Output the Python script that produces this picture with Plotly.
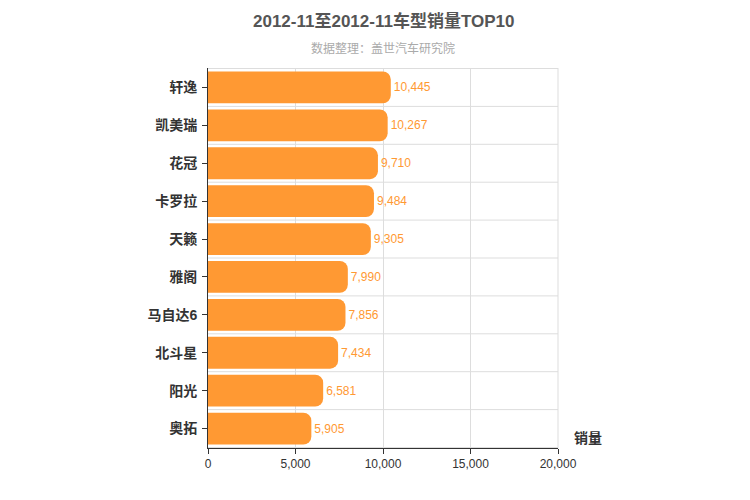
import plotly.graph_objects as go

categories = ["轩逸", "凯美瑞", "花冠", "卡罗拉", "天籁", "雅阁", "马自达6", "北斗星", "阳光", "奥拓"]
sales = [10445, 10267, 9710, 9484, 9305, 7990, 7856, 7434, 6581, 5905]
x_ticks = [0, 5000, 10000, 15000, 20000]

fig = go.Figure(go.Bar(
    y=categories, x=sales, orientation="h",
    marker=dict(color="#FF9933", line=dict(width=0)),
    width=0.84,
    text=[f"{v:,}" for v in sales], textposition="outside",
    textfont=dict(color="#FF9933", size=12), cliponaxis=False,
))
shapes = []
for i in range(len(categories) + 1):
    shapes.append(dict(type="line", xref="paper", x0=0, x1=1, yref="y", y0=i - 0.5, y1=i - 0.5,
                       line=dict(color="#DDDDDD", width=1), layer="below"))
shapes.append(dict(type="line", xref="paper", x0=1, x1=1, yref="paper", y0=0, y1=1,
                   line=dict(color="#DDDDDD", width=1), layer="below"))
fig.update_layout(
    width=750, height=500, plot_bgcolor="white", paper_bgcolor="white",
    margin=dict(l=200, r=200, t=60, b=60, autoexpand=False),
    font=dict(family="Liberation Sans, Noto Sans CJK SC, sans-serif", color="#333"),
    barcornerradius=8, showlegend=False, shapes=shapes,
    xaxis=dict(range=[0, 20000], tickvals=x_ticks, tickformat=",", showgrid=True, gridcolor="#DDDDDD",
               zeroline=False, showline=True, linecolor="#333", ticks="outside", ticklen=5,
               tickcolor="#333", tickfont=dict(size=12, color="#333"), automargin=False),
    yaxis=dict(categoryorder="array", categoryarray=categories[::-1], showgrid=False,
               showline=True, linecolor="#333", ticks="outside", ticklen=5, tickcolor="#333",
               tickfont=dict(size=14, color="#333", weight="bold"), ticklabelstandoff=2, automargin=False),
    annotations=[
        dict(text="<b>2012-11至2012-11车型销量TOP10</b>", xref="paper", yref="paper", x=0.5, y=1, yshift=47,
             xanchor="center", yanchor="middle", showarrow=False, font=dict(size=17, color="#555555")),
        dict(text="数据整理：盖世汽车研究院", xref="paper", yref="paper", x=0.5, y=1, yshift=20,
             xanchor="center", yanchor="middle", showarrow=False, font=dict(size=12, color="#AAAAAA")),
        dict(text="<b>销量</b>", xref="paper", yref="paper", x=1, xshift=14, y=0, xanchor="left",
             yanchor="bottom", showarrow=False, font=dict(size=14, color="#333")),
    ],
)
fig.write_html("out.html")
